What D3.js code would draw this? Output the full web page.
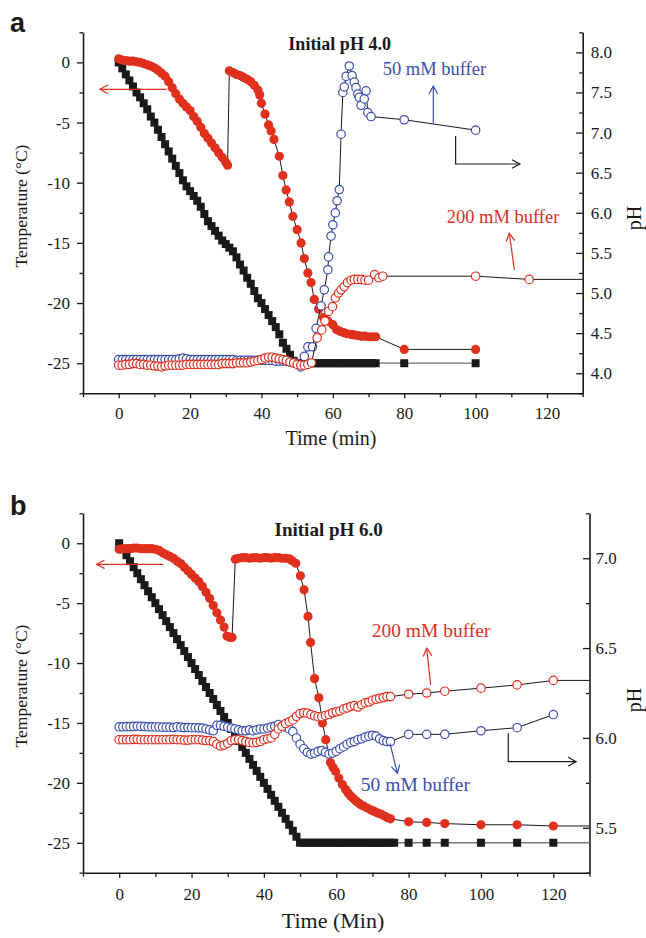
<!DOCTYPE html>
<html><head><meta charset="utf-8">
<script src="https://cdn.jsdelivr.net/npm/d3@7"></script>
<style>
body{margin:0;background:#fff;}
svg{display:block;}
svg text{font-family:"Liberation Serif","Times New Roman",serif;}
svg text.letter{font-family:"Liberation Sans",Arial,sans-serif;}
</style></head><body>
<svg id="chart" width="646" height="938"></svg>
<script>
// ---------------- DATA ----------------
const timeDomain = [-10, 130];
const tempDomain = [-27.5, 2.5];
const timeMajor = [0, 20, 40, 60, 80, 100, 120];
const timeMinor = [-10, 10, 30, 50, 70, 90, 110, 130];
const tempMajor = [-25, -20, -15, -10, -5, 0];
const tempMinor = [-27.5, -22.5, -17.5, -12.5, -7.5, -2.5, 2.5];
const phMajorA = [4.0, 4.5, 5.0, 5.5, 6.0, 6.5, 7.0, 7.5, 8.0];
const phMinorA = [3.75, 4.25, 4.75, 5.25, 5.75, 6.25, 6.75, 7.25, 7.75, 8.25];
const phMajorB = [5.5, 6.0, 6.5, 7.0];
const phMinorB = [5.25, 5.75, 6.25, 6.75, 7.25];

// Panel a : bath temperature (black squares), [time min, °C]
const aBath = [[0,0],[1,-0.5],[2,-1],[3,-1.5],[4,-2],[5,-2.5],[6,-2.9],[7,-3.4],[8,-3.9],[9,-4.5],[10,-5],
 [11,-5.6],[12,-6.2],[13,-6.8],[14,-7.4],[15,-8],[16,-8.6],[17,-9.2],[18,-9.8],[19,-10.3],[20,-10.7],
 [21,-11.1],[22,-11.5],[23,-12],[24,-12.6],[25,-13.2],[26,-13.6],[27,-14],[28,-14.4],[29,-14.8],[30,-15.1],
 [31,-15.4],[32,-15.7],[33,-16.2],[34,-16.8],[35,-17.3],[36,-17.9],[37,-18.4],[38,-19],[39,-19.6],[40,-20],
 [41,-20.5],[42,-21],[43,-21.5],[44,-22],[45,-22.6],[46,-23.3],[47,-23.8],[48,-24.3],[49,-24.8],[50,-25],
 [51,-25],[52,-25],[53,-25],[54,-25],[55,-25],[56,-25],[57,-25],[58,-25],[59,-25],[60,-25],[61,-25],
 [62,-25],[63,-25],[64,-25],[65,-25],[66,-25],[67,-25],[68,-25],[69,-25],[70,-25],[71,-25],[72,-25],
 [80,-25],[100,-25]];
// Panel a : sample temperature (red filled circles)
const aSample = [[0,0.3],[1,0.2],[2,0.15],[3,0.1],[4,0.1],[5,0.05],[6,0],[7,-0.1],[8,-0.2],[9,-0.3],[10,-0.45],
 [11,-0.65],[12,-0.9],[13,-1.15],[14,-1.6],[15,-2.1],[16,-2.6],[17,-3.05],[18,-3.4],[19,-3.7],[20,-4.0],
 [21,-4.5],[22,-4.9],[23,-5.4],[24,-5.9],[25,-6.3],[26,-6.7],[27,-7.1],[28,-7.5],[29,-7.9],[30,-8.3],[30.5,-8.55],
 [31,-0.7],[32,-0.85],[33,-1.0],[34,-1.1],[35,-1.25],[36,-1.4],[37,-1.6],[38,-1.9],[39,-2.3],[39.5,-2.7],[40,-3.4],
 [41,-4.3],[42,-5.2],[42.7,-5.7],[43.5,-6.4],[45,-7.8],[46,-9.4],[46.9,-10.6],[47.8,-11.6],[48.8,-12.8],[50,-13.9],
 [51.1,-15.0],[52,-16.3],[53,-17.5],[53.9,-18.3],[54.8,-19.7],[56,-20.5],[57.4,-21.2],[58.6,-21.5],[60,-21.8],
 [61,-22.2],[62,-22.35],[63,-22.45],[64,-22.55],[65,-22.6],[66,-22.65],[67,-22.7],[68,-22.75],[69,-22.75],
 [70,-22.8],[71,-22.8],[72,-22.8],[80,-23.85],[100,-23.85]];
// Panel a : pH, 50 mM buffer (blue open circles)
const aPh50 = [[0,4.17],[1,4.17],[2,4.17],[3,4.17],[4,4.17],[5,4.17],[6,4.17],[7,4.17],[8,4.17],[9,4.17],[10,4.17],
 [11,4.17],[12,4.17],[13,4.17],[14,4.17],[15,4.17],[16,4.17],[17,4.18],[18,4.19],[19,4.18],[20,4.17],
 [21,4.17],[22,4.17],[23,4.17],[24,4.17],[25,4.17],[26,4.17],[27,4.17],[28,4.17],[29,4.17],[30,4.17],
 [31,4.17],[32,4.17],[33,4.16],[34,4.16],[35,4.16],[36,4.16],[37,4.16],[38,4.16],[39,4.16],[40,4.16],
 [41,4.16],[42,4.16],[43,4.16],[44,4.15],[45,4.15],[46,4.15],[47,4.15],[48,4.14],[49,4.13],[50,4.12],
 [51,4.08],[52,4.21],[53,4.33],[54.3,4.33],[55.3,4.56],[56.7,4.84],[57.6,5.04],[58.6,5.29],[58.8,5.45],[59.5,5.71],
 [60,5.85],[60.7,6.0],[61.2,6.15],[61.8,6.29],[62.3,6.98],[62.8,7.5],[63.2,7.57],[63.7,7.7],[64.6,7.83],[65.4,7.71],
 [66,7.63],[66.5,7.56],[67,7.48],[67.4,7.44],[67.9,7.34],[68.8,7.42],[69.3,7.52],[69.8,7.25],[70.7,7.2],
 [80,7.16],[100,7.03]];
// Panel a : pH, 200 mM buffer (red open circles)
const aPh200 = [[0,4.10],[1,4.10],[2,4.11],[3,4.11],[4,4.12],[5,4.12],[6,4.11],[7,4.11],[8,4.10],[9,4.10],[10,4.09],
 [11,4.09],[12,4.08],[13,4.09],[14,4.10],[15,4.10],[16,4.10],[17,4.10],[18,4.10],[19,4.11],[20,4.11],
 [21,4.11],[22,4.11],[23,4.11],[24,4.11],[25,4.11],[26,4.11],[27,4.11],[28,4.11],[29,4.12],[30,4.12],
 [31,4.12],[32,4.12],[33,4.13],[34,4.13],[35,4.13],[36,4.13],[37,4.14],[38,4.15],[39,4.16],[40,4.17],
 [41,4.19],[42,4.2],[43,4.2],[44,4.19],[45,4.18],[46,4.17],[47,4.16],[48,4.14],[49,4.13],[50,4.11],
 [51,4.10],[52,4.10],[53,4.11],[54,4.13],[55.6,4.44],[56.9,4.54],[57.8,4.65],[58.8,4.77],[59.9,4.83],[60.7,4.94],
 [61.6,5.0],[62.3,5.04],[63.2,5.08],[64.1,5.13],[65.1,5.16],[66,5.17],[67,5.17],[68,5.17],[69,5.16],[70,5.16],
 [71.7,5.23],[72.9,5.19],[74,5.21],[100,5.21],[115,5.17]];

// Panel b : bath temperature (black squares)
const bBath = [[0,0],[1,-0.5],[2,-1],[3,-1.5],[4,-2],[5,-2.5],[6,-3],[7,-3.5],[8,-4],[9,-4.5],[10,-5],
 [11,-5.5],[12,-6],[13,-6.5],[14,-7],[15,-7.5],[16,-8],[17,-8.5],[18,-9],[19,-9.5],[20,-10],
 [21,-10.5],[22,-11],[23,-11.5],[24,-12],[25,-12.5],[26,-13],[27,-13.5],[28,-14],[29,-14.5],[30,-15],
 [31,-15.5],[32,-16],[33,-16.5],[34,-17],[35,-17.5],[36,-18],[37,-18.5],[38,-19],[39,-19.5],[40,-20],
 [41,-20.5],[42,-21],[43,-21.5],[44,-22],[45,-22.5],[46,-23],[47,-23.5],[48,-24],[49,-24.5],[50,-25],
 [51,-25],[52,-25],[53,-25],[54,-25],[55,-25],[56,-25],[57,-25],[58,-25],[59,-25],[60,-25],[61,-25],
 [62,-25],[63,-25],[64,-25],[65,-25],[66,-25],[67,-25],[68,-25],[69,-25],[70,-25],[71,-25],[72,-25],
 [73,-25],[74,-25],[75,-25],[76,-25],[80,-25],[85,-25],[90,-25],[100,-25],[110,-25],[120,-25]];
// Panel b : sample temperature (red filled circles)
const bSample = [[0,-0.5],[1,-0.45],[2,-0.45],[3,-0.45],[4,-0.4],[5,-0.4],[6,-0.45],[7,-0.45],[8,-0.45],[9,-0.45],
 [10,-0.5],[11,-0.6],[12,-0.8],[13,-0.95],[14,-1.1],[15,-1.25],[16,-1.5],[17,-1.7],[18,-2.0],[19,-2.3],
 [20,-2.6],[21,-2.9],[22,-3.2],[23,-3.6],[24,-4.1],[25,-4.6],[26,-5.2],[27,-5.8],[28,-6.4],[29,-7.0],
 [29.8,-7.75],[30.5,-7.85],[31.2,-7.86],
 [32.1,-1.33],[33,-1.25],[34,-1.2],[35,-1.2],[36,-1.25],[37,-1.2],[38,-1.2],[39,-1.25],[40,-1.2],[41,-1.2],
 [42,-1.25],[43,-1.2],[44,-1.2],[45,-1.25],[46,-1.25],[47,-1.3],[47.7,-1.45],[48.8,-1.67],[50.1,-2.72],
 [51.1,-3.89],[52.2,-6.11],[52.9,-8.28],[54,-11.3],[55.2,-12.9],[56.2,-15.0],[57.1,-16.4],[58.4,-18.3],
 [59.1,-18.7],[59.8,-19.03],[60.7,-19.6],[61.7,-20.14],[62.6,-20.56],[63.3,-20.85],[64,-21.1],[64.7,-21.3],
 [65.4,-21.5],[66,-21.65],[66.7,-21.8],[67.6,-21.95],[68.6,-22.1],[69.5,-22.25],[70.4,-22.36],[71.3,-22.5],
 [72.3,-22.6],[73.2,-22.75],[74.1,-22.9],[75,-23.0],[80,-23.25],[85,-23.3],[90,-23.4],[100,-23.5],[110,-23.5],[120,-23.6]];
// Panel b : pH, 50 mM buffer (blue open circles)
const bPh50 = [[0,6.062],[1,6.062],[2,6.063],[3,6.063],[4,6.064],[5,6.065],[6,6.064],[7,6.063],[8,6.062],[9,6.062],
 [10,6.061],[11,6.061],[12,6.06],[13,6.06],[14,6.06],[15,6.058],[16,6.062],[17,6.06],[18,6.058],[19,6.058],
 [20,6.057],[21,6.057],[22,6.056],[23,6.055],[24,6.05],[25,6.045],[26,6.04],[27,6.07],[28,6.07],[29,6.065],
 [30,6.06],[31,6.055],[32,6.05],[33,6.045],[34,6.04],[35,6.04],[36,6.045],[37,6.04],[38,6.045],[39,6.05],
 [40,6.05],[41,6.055],[42,6.06],[43,6.065],[44,6.075],[45,6.065],[46,6.06],[47,6.05],[48,6.035],[49,6.0],
 [50,5.965],[51,5.94],[52,5.92],[53,5.91],[54,5.915],[55,5.925],[56,5.93],[57,5.92],[58,5.91],[59,5.915],
 [60,5.925],[61,5.94],[62,5.95],[63,5.965],[64,5.975],[65,5.98],[66,5.99],[67,5.995],[68,6.005],[69,6.01],
 [70,6.015],[71,6.01],[72,5.995],[73,5.985],[74,5.98],[75,5.98],[80,6.02],[85,6.02],[90,6.02],[100,6.04],
 [110,6.057],[120,6.13]];
// Panel b : pH, 200 mM buffer (red open circles)
const bPh200 = [[0,5.99],[1,5.99],[2,5.99],[3,5.99],[4,5.992],[5,5.992],[6,5.99],[7,5.99],[8,5.99],[9,5.99],
 [10,5.99],[11,5.99],[12,5.99],[13,5.99],[14,5.99],[15,5.992],[16,5.99],[17,5.99],[18,5.988],[19,5.988],
 [20,5.99],[21,5.99],[22,5.99],[23,5.988],[24,5.985],[25,5.985],[26,5.98],[27,5.965],[28,5.955],[29,5.96],
 [30,5.97],[31,5.985],[32,5.99],[33,5.99],[34,5.985],[35,5.98],[36,5.975],[37,5.973],[38,5.975],[39,5.98],
 [40,5.99],[41,5.995],[42,6.0],[43,6.02],[44,6.05],[45,6.065],[46,6.08],[47,6.09],[48,6.1],[49,6.12],
 [50,6.135],[51,6.14],[52,6.138],[53,6.13],[54,6.123],[55,6.118],[56,6.118],[57,6.125],[58,6.13],[59,6.14],
 [60,6.145],[61,6.15],[62,6.16],[63,6.167],[64,6.175],[65,6.18],[66,6.172],[67,6.185],[68,6.195],[69,6.2],
 [70,6.21],[71,6.215],[72,6.22],[73,6.225],[74,6.23],[75,6.23],[80,6.243],[85,6.25],[90,6.26],[100,6.277],
 [110,6.295],[120,6.32]];

// ---------------- DRAWING ----------------
const RED = "#e0301e", BLUE = "#3a4eb0", INK = "#1a1a1a";
const SERIF = '"Liberation Serif","Times New Roman",serif';
const svg = d3.select("#chart");

function styleAxis(sel, fs) {
  sel.attr("font-family", null).attr("font-size", null);
  sel.selectAll(".domain").attr("stroke", INK).attr("stroke-width", 1.6);
  sel.selectAll(".tick line").attr("stroke", INK).attr("stroke-width", 1.3);
  sel.selectAll(".tick text").attr("fill", INK).style("font-size", fs + "px").style("font-family", SERIF);
}

function arrowHead(g, x1, y1, x2, y2, color) {
  const a = Math.atan2(y2 - y1, x2 - x1), L = 9, th = 0.5;
  const p1 = [x2 - L * Math.cos(a - th), y2 - L * Math.sin(a - th)];
  const p2 = [x2 - L * Math.cos(a + th), y2 - L * Math.sin(a + th)];
  g.append("path").attr("d", `M${p1[0]},${p1[1]}L${x2},${y2}L${p2[0]},${p2[1]}`)
    .attr("fill", "none").attr("stroke", color).attr("stroke-width", 1.2);
}
function arrow(g, p, q, color) {
  g.append("line").attr("x1", p[0]).attr("y1", p[1]).attr("x2", q[0]).attr("y2", q[1])
    .attr("stroke", color).attr("stroke-width", 1.2);
  arrowHead(g, p[0], p[1], q[0], q[1], color);
}

function drawSeries(g, data, xs, ys, o) {
  const lineData = o.extend ? data.concat([[timeDomain[1], data[data.length - 1][1]]]) : data;
  g.append("path").datum(lineData)
    .attr("d", d3.line().x(d => xs(d[0])).y(d => ys(d[1])))
    .attr("fill", "none").attr("stroke", o.line).attr("stroke-width", o.lw || 1);
  const m = g.append("g");
  if (o.shape === "square") {
    m.selectAll("rect").data(data).join("rect")
      .attr("x", d => xs(d[0]) - 4).attr("y", d => ys(d[1]) - 4)
      .attr("width", 8).attr("height", 8).attr("fill", INK);
  } else if (o.shape === "filled") {
    m.selectAll("circle").data(data).join("circle")
      .attr("cx", d => xs(d[0])).attr("cy", d => ys(d[1])).attr("r", 4.6)
      .attr("fill", o.color);
  } else {
    m.selectAll("circle").data(data).join("circle")
      .attr("cx", d => xs(d[0])).attr("cy", d => ys(d[1])).attr("r", 4.2)
      .attr("fill", "#fff").attr("stroke", o.color).attr("stroke-width", 1.2);
  }
}

function drawPanel(c) {
  const g = svg.append("g");
  const x = d3.scaleLinear().domain(timeDomain).range([c.left, c.right]);
  const yT = d3.scaleLinear().domain(tempDomain).range([c.bottom, c.top]);
  const yP = d3.scaleLinear().domain(c.phDomain).range([c.bottom, c.top]);

  // axes
  const bMin = g.append("g").attr("transform", `translate(0,${c.bottom})`)
    .call(d3.axisBottom(x).tickValues(timeMinor).tickSize(4).tickFormat(""));
  bMin.select(".domain").remove(); styleAxis(bMin, 17);
  const bMaj = g.append("g").attr("transform", `translate(0,${c.bottom})`)
    .call(d3.axisBottom(x).tickValues(timeMajor).tickSizeInner(5).tickSizeOuter(0).tickPadding(c.xPad).tickFormat(d => d));
  styleAxis(bMaj, 17);

  const lMin = g.append("g").attr("transform", `translate(${c.left},0)`)
    .call(d3.axisLeft(yT).tickValues(tempMinor).tickSize(3.5).tickFormat(""));
  lMin.select(".domain").remove(); styleAxis(lMin, 17);
  const lMaj = g.append("g").attr("transform", `translate(${c.left},0)`)
    .call(d3.axisLeft(yT).tickValues(tempMajor).tickSizeInner(6).tickSizeOuter(0).tickPadding(7).tickFormat(d => String(d)));
  styleAxis(lMaj, 17);

  const rMin = g.append("g").attr("transform", `translate(${c.right},0)`)
    .call(d3.axisRight(yP).tickValues(c.phMinor).tickSizeInner(-3.5).tickSizeOuter(0).tickFormat(""));
  rMin.select(".domain").remove(); styleAxis(rMin, 17);
  const rMaj = g.append("g").attr("transform", `translate(${c.right},0)`)
    .call(d3.axisRight(yP).tickValues(c.phMajor).tickSizeInner(-6.5).tickSizeOuter(0).tickPadding(c.rPad).tickFormat(d3.format(".1f")));
  styleAxis(rMaj, 17);

  // series
  drawSeries(g, c.bath, x, yT, {shape: "square", line: "#777", lw: 1.3, extend: c.extendBath});
  drawSeries(g, c.sample, x, yT, {shape: "filled", color: RED, line: INK, lw: 1, extend: c.extendSample});
  drawSeries(g, c.ph50, x, yP, {shape: "open", color: BLUE, line: INK, lw: 1});
  drawSeries(g, c.ph200, x, yP, {shape: "open", color: RED, line: INK, lw: 1, extend: true});

  // annotations
  const A = c.ann;
  arrow(g, [x(A.redLeft[0]), yT(A.redLeft[2])], [x(A.redLeft[1]), yT(A.redLeft[2])], RED);
  g.append("text").attr("x", x(A.lab50[0])).attr("y", yP(A.lab50[1])).attr("fill", BLUE)
    .style("font-size", c.labFs + "px").text("50 mM buffer");
  arrow(g, [x(A.blueArr[0]), yP(A.blueArr[1])], [x(A.blueArr[2]), yP(A.blueArr[3])], BLUE);
  g.append("text").attr("x", x(A.lab200[0])).attr("y", yP(A.lab200[1])).attr("fill", RED)
    .style("font-size", c.labFs + "px").text("200 mM buffer");
  arrow(g, [x(A.redArr[0]), yP(A.redArr[1])], [x(A.redArr[2]), yP(A.redArr[3])], RED);
  const e = A.elbow;
  g.append("path").attr("d", `M${x(e[0])},${yP(e[1])}V${yP(e[2])}H${x(e[3])}`)
    .attr("fill", "none").attr("stroke", INK).attr("stroke-width", 1.2);
  arrowHead(g, x(e[0]), yP(e[2]), x(e[3]), yP(e[2]), INK);

  g.append("text").attr("x", x(A.title[0])).attr("y", yT(A.title[1])).attr("text-anchor", "middle")
    .attr("font-weight", "bold").style("font-size", c.titleFs + "px").attr("fill", INK).text(c.title);

  // axis titles
  g.append("text").attr("transform", `translate(27,${c.tempLabY}) rotate(-90)`).attr("text-anchor", "middle")
    .style("font-size", "17.5px").attr("fill", INK).text("Temperature (\u00B0C)");
  g.append("text").attr("transform", `translate(641,${c.phLabY}) rotate(-90)`).attr("text-anchor", "middle")
    .style("font-size", "20px").attr("fill", INK).text("pH");
  g.append("text").attr("x", c.timeLabX).attr("y", c.timeLabY).attr("text-anchor", "middle")
    .style("font-size", c.timeFs + "px").attr("fill", INK).text(c.timeLabel);
  g.append("text").attr("class", "letter").attr("x", 10).attr("y", c.letterY)
    .attr("font-weight", "bold").style("font-size", "27px").attr("fill", INK).text(c.letter);
}

drawPanel({
  letter: "a", letterY: 32, title: "Initial pH 4.0", titleFs: 18,
  left: 83, right: 582.7, top: 32.3, bottom: 393.3, xPad: 8.4, rPad: 8,
  phDomain: [3.75, 8.25], phMajor: phMajorA, phMinor: phMinorA,
  bath: aBath, sample: aSample, ph50: aPh50, ph200: aPh200, extendBath: false, extendSample: false,
  labFs: 18.5, timeLabel: "Time (min)", timeFs: 20, timeLabX: 331, timeLabY: 445,
  tempLabY: 206, phLabY: 218,
  ann: { redLeft: [13.45, -5.24, -2.24], lab50: [73.95, 7.72], blueArr: [88.15, 7.116, 88.15, 7.58],
         lab200: [91.9, 5.877], redArr: [110.85, 5.287, 109.45, 5.744], elbow: [94.4, 6.957, 6.608, 112.4],
         title: [61.9, 1.03] }
});
drawPanel({
  letter: "b", letterY: 515, title: "Initial pH 6.0", titleFs: 19,
  left: 83, right: 589.5, top: 513.3, bottom: 872.7, xPad: 10, rPad: 6,
  phDomain: [5.25, 7.25], phMajor: phMajorB, phMinor: phMinorB,
  bath: bBath, sample: bSample, ph50: bPh50, ph200: bPh200, extendBath: true, extendSample: true,
  labFs: 19.5, timeLabel: "Time (Min)", timeFs: 22, timeLabX: 333, timeLabY: 928,
  tempLabY: 686, phLabY: 700,
  ann: { redLeft: [12.19, -6.21, -1.76], lab50: [66.8, 5.706], blueArr: [74.85, 5.97, 76.9, 5.803],
         lab200: [69.8, 6.563], redArr: [86.1, 6.295, 85.0, 6.499], elbow: [107.55, 6.026, 5.868, 126.3],
         title: [57.9, 0.6] }
});
</script></body></html>
